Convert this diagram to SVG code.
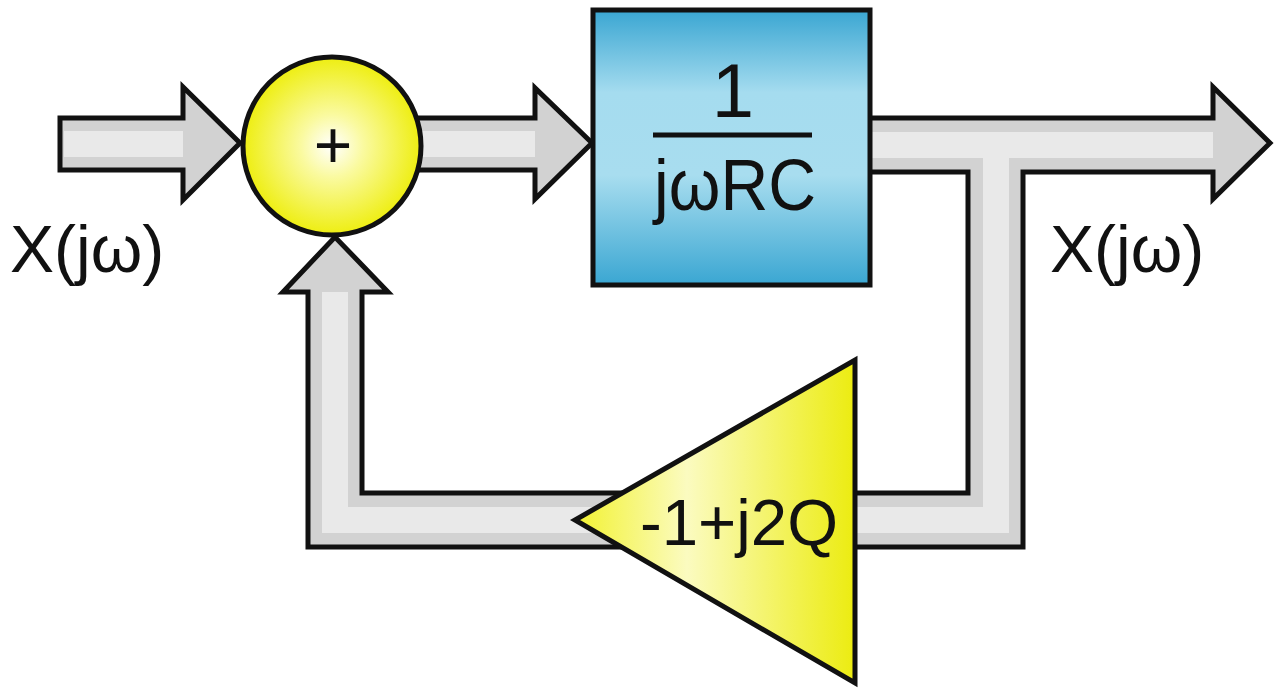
<svg xmlns="http://www.w3.org/2000/svg" width="1280" height="689" viewBox="0 0 1280 689">
<defs>
<style>
.tube{fill:#d2d2d2;stroke:none}
.hl{fill:none;stroke:#e9e9e9;stroke-width:26;stroke-linejoin:miter}
.outl{fill:none;stroke:#111;stroke-width:5;stroke-linejoin:miter}
.lbl{font-family:"Liberation Sans",Arial,sans-serif;fill:#111}
</style>
<radialGradient id="gCirc" cx="0.5" cy="0.5" r="0.5">
<stop offset="0" stop-color="#ffffff"/>
<stop offset="0.35" stop-color="#fafaa0"/>
<stop offset="1" stop-color="#eeee10"/>
</radialGradient>
<linearGradient id="gBox" x1="0" y1="0" x2="0" y2="1">
<stop offset="0" stop-color="#3aa6d2"/>
<stop offset="0.3" stop-color="#a5dcef"/>
<stop offset="0.6" stop-color="#a8ddef"/>
<stop offset="1" stop-color="#3aa6d2"/>
</linearGradient>
<linearGradient id="gTri" x1="0" y1="0" x2="1" y2="0">
<stop offset="0" stop-color="#f2f230"/>
<stop offset="0.4" stop-color="#fbfbc0"/>
<stop offset="1" stop-color="#ecec10"/>
</linearGradient>
</defs>
<rect width="1280" height="689" fill="#ffffff"/>
<g id="connectors">
<g id="input-arrow">
<polygon class="tube" points="60,118 183,118 183,87 240,143 183,200 183,170 60,170"/>
<line class="hl" x1="64" y1="144" x2="183" y2="144"/>
<polygon class="outl" points="60,118 183,118 183,87 240,143 183,200 183,170 60,170"/>
</g>
<g id="mid-arrow">
<polygon class="tube" points="410,118 535,118 535,88 592,143 535,199 535,170 410,170"/>
<line class="hl" x1="410" y1="144" x2="535" y2="144"/>
<polygon class="outl" points="410,118 535,118 535,88 592,143 535,199 535,170 410,170"/>
</g>
<g id="output-feedback">
<polygon class="tube" points="865,118 1213,118 1213,87 1270,143 1213,199 1213,172 1023,172 1023,547 308,547 308,292 283,292 335,237 388,292 362,292 362,493 968,493 968,172 865,172"/>
<polyline class="hl" points="865,145 1213,145"/>
<polyline class="hl" points="996,150 996,520 335,520 335,292"/>
<polygon class="outl" points="865,118 1213,118 1213,87 1270,143 1213,199 1213,172 1023,172 1023,547 308,547 308,292 283,292 335,237 388,292 362,292 362,493 968,493 968,172 865,172"/>
</g>
</g>
<g id="sum">
<circle cx="332" cy="146" r="89" fill="url(#gCirc)" stroke="#111" stroke-width="5"/>
<text class="lbl" x="333" y="168" font-size="66" text-anchor="middle">+</text>
</g>
<g id="integrator">
<rect x="593" y="10" width="277" height="275" fill="url(#gBox)" stroke="#111" stroke-width="5"/>
<text class="lbl" x="733" y="117" font-size="76" text-anchor="middle">1</text>
<line x1="653" y1="135" x2="812" y2="135" stroke="#111" stroke-width="5"/>
<text class="lbl" x="735" y="210" font-size="72" text-anchor="middle" textLength="162" lengthAdjust="spacingAndGlyphs">jωRC</text>
</g>
<g id="gain">
<polygon points="855,360 855,683 575,520" fill="url(#gTri)" stroke="#111" stroke-width="5" stroke-linejoin="miter"/>
<text class="lbl" x="739" y="545" font-size="64" text-anchor="middle" textLength="198" lengthAdjust="spacingAndGlyphs">-1+j2Q</text>
</g>
<g id="label-in">
<text class="lbl" x="10" y="272" font-size="66">X(jω)</text>
</g>
<g id="label-out">
<text class="lbl" x="1050" y="272" font-size="66">X(jω)</text>
</g>
</svg>
